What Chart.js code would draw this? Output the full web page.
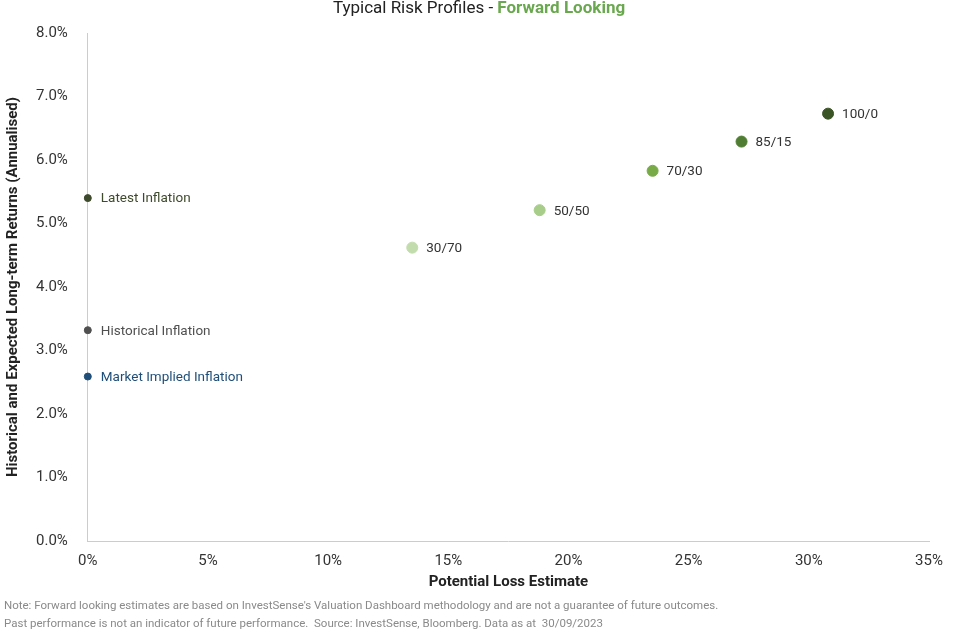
<!DOCTYPE html>
<html><head><meta charset="utf-8">
<script src="https://cdn.jsdelivr.net/npm/chart.js@4"></script>
<style>html,body{margin:0;padding:0;background:#fff}#w{width:964px;height:633px;position:relative}</style>
</head><body><div id="w"><canvas id="c"></canvas></div>
<script>
const profileLabels = ["30/70","50/50","70/30","85/15","100/0"];
const profileLoss = [13.5,18.8,23.5,27.2,30.8];
const profileReturn = [4.62,5.21,5.83,6.29,6.73];
const profileColors = ["#c3dcad","#a8cd8a","#78ab48","#4f7e32","#3b5426"];
const inflLabels = ["Latest Inflation","Historical Inflation","Market Implied Inflation"];
const inflValues = [5.40,3.32,2.59];
const inflColors = ["#3e4a2c","#505050","#1f4e79"];
const xTicks = [0,5,10,15,20,25,30,35];

const datasets = [];
profileLabels.forEach((l,i)=>datasets.push({label:l,data:[{x:profileLoss[i],y:profileReturn[i]}],backgroundColor:profileColors[i],borderColor:profileColors[i],pointRadius:5.5,textColor:"#333",clip:false}));
inflLabels.forEach((l,i)=>datasets.push({label:l,data:[{x:0,y:inflValues[i]}],backgroundColor:inflColors[i],borderColor:inflColors[i],pointRadius:3.5,textColor:inflColors[i],clip:false}));

const labelPlugin={id:'lbl',afterDatasetsDraw(ch){const c=ch.ctx;c.save();c.font='13.5px Roboto';c.textBaseline='middle';
ch.data.datasets.forEach((d,i)=>{const p=ch.getDatasetMeta(i).data[0];c.fillStyle=d.textColor;c.fillText(d.label,p.x+(d.pointRadius>4?14:13),p.y+1);});
c.textBaseline='middle';const a='Typical Risk Profiles - ',b='Forward Looking';
c.font='17px Roboto';const wa=c.measureText(a).width;c.font='bold 17px Roboto';const wb=c.measureText(b).width;
let x0=(ch.width-(wa+wb))/2-3;c.font='17px Roboto';c.fillStyle='#222';c.fillText(a,x0,9);c.font='bold 17px Roboto';c.fillStyle='#6aa84f';c.fillText(b,x0+wa,9);
c.font='11.5px Roboto';c.fillStyle='#8a8a8a';c.textBaseline='alphabetic';
c.fillText("Note: Forward looking estimates are based on InvestSense's Valuation Dashboard methodology and are not a guarantee of future outcomes.",4,609);
c.fillText("Past performance is not an indicator of future performance.  Source: InvestSense, Bloomberg. Data as at  30/09/2023",4,627);
c.restore();}};

new Chart(document.getElementById('c'),{type:'scatter',data:{datasets},plugins:[labelPlugin],
options:{responsive:true,maintainAspectRatio:false,animation:false,
layout:{padding:{top:33,right:35,bottom:38,left:0}},
plugins:{legend:{display:false},tooltip:{enabled:false}},
scales:{x:{type:'linear',min:0,max:35,afterBuildTicks(ax){ax.ticks=xTicks.map(v=>({value:v}));},
grid:{display:false},border:{color:'#cccccc'},ticks:{color:'#333',font:{family:'Roboto',size:15},padding:3,callback:v=>v+'%'},
title:{display:true,text:'Potential Loss Estimate',color:'#222',font:{family:'Roboto',size:15,weight:'bold'},padding:{top:0}}},
y:{min:0,max:8,grid:{display:false},border:{color:'#cccccc'},ticks:{stepSize:1,color:'#333',font:{family:'Roboto',size:15},padding:12,callback:v=>v.toFixed(1)+'%'},
title:{display:true,text:'Historical and Expected Long-term Returns (Annualised)',color:'#222',font:{family:'Roboto',size:15,weight:'bold'},padding:{bottom:2}}}}}});
</script></body></html>
